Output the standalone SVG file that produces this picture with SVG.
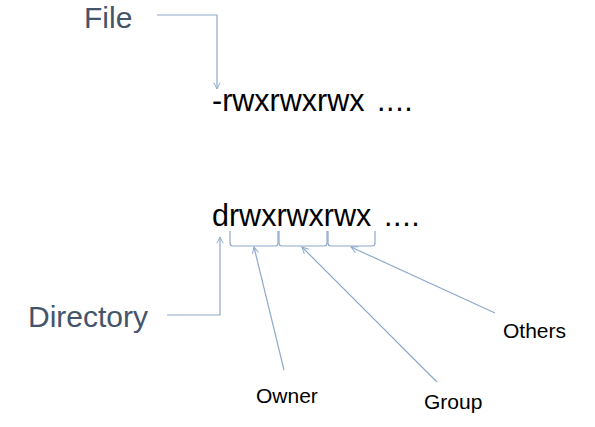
<svg xmlns="http://www.w3.org/2000/svg" width="595" height="427" viewBox="0 0 595 427">
<defs>
<style>
.lbl{font-family:"Liberation Sans",Arial,sans-serif;fill:#44546a;font-size:30px}
.perm{font-family:"Liberation Sans",Arial,sans-serif;fill:#000;font-size:30.5px}
.who{font-family:"Liberation Sans",Arial,sans-serif;fill:#000;font-size:21px}
.ln{fill:none;stroke:#8eaacb;stroke-width:1.2}
</style>
<marker id="ah" viewBox="0 0 10 10" refX="9" refY="5" markerWidth="8" markerHeight="8" orient="auto" markerUnits="userSpaceOnUse">
<path d="M1,1 L9,5 L1,9" fill="none" stroke="#8eaacb" stroke-width="1.2"/>
</marker>
</defs>
<rect width="595" height="427" fill="#fff"/>
<g id="file"><text class="lbl" x="84" y="28">File</text></g>
<g id="directory"><text class="lbl" x="28" y="327">Directory</text></g>
<g id="perm-file"><text class="perm" x="212" y="111">-rwxrwxrwx <tspan x="377" letter-spacing="0.6">....</tspan></text></g>
<g id="perm-dir"><text class="perm" x="212" y="225.5">drwxrwxrwx <tspan x="384" letter-spacing="0.6">....</tspan></text></g>
<g id="owner"><text class="who" x="256" y="403">Owner</text></g>
<g id="group"><text class="who" x="424" y="409">Group</text></g>
<g id="others"><text class="who" x="503" y="338">Others</text></g>
<g id="brackets">
<path class="ln" d="M230,231 L230,243 Q230,246 233,246 L275,246 Q278,246 278,243 L278,231"/>
<path class="ln" d="M279,231 L279,243 Q279,246 282,246 L324,246 Q327,246 327,243 L327,231"/>
<path class="ln" d="M328,231 L328,243 Q328,246 331,246 L372,246 Q375,246 375,243 L375,231"/>
</g>
<g id="connectors">
<path class="ln" d="M157,15 L217,15 L217,89" marker-end="url(#ah)"/>
<path class="ln" d="M167,315 L220,315 L220,237" marker-end="url(#ah)"/>
<path class="ln" d="M284,370 L254,247" marker-end="url(#ah)"/>
<path class="ln" d="M437,382 L302,247" marker-end="url(#ah)"/>
<path class="ln" d="M495,313 L351,247" marker-end="url(#ah)"/>
</g>
</svg>
